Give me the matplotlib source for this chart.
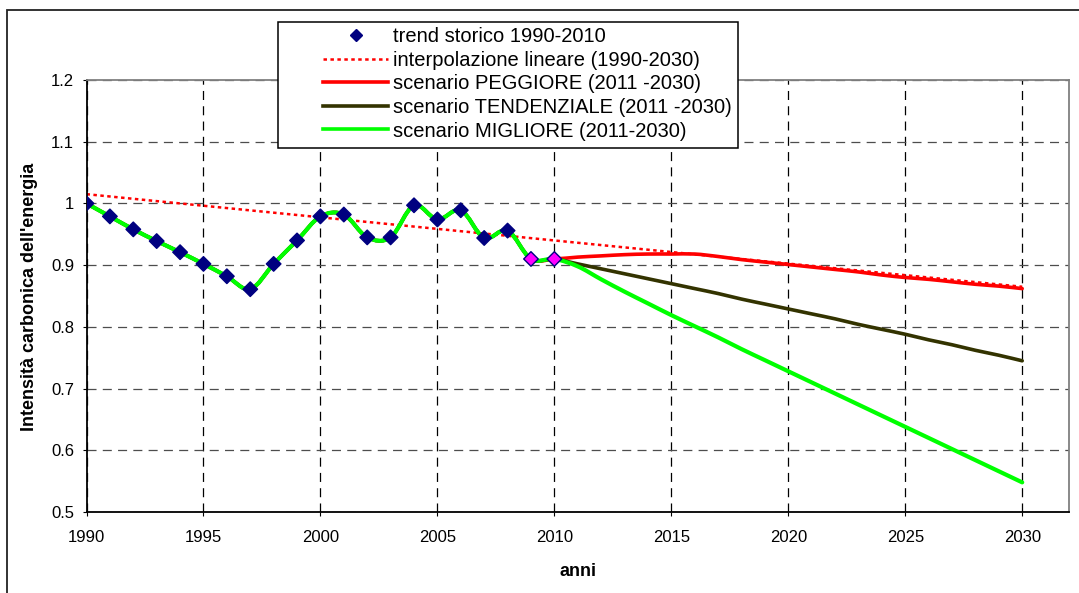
import numpy as np
import matplotlib
matplotlib.use("Agg")
import matplotlib.pyplot as plt
from matplotlib.path import Path
from matplotlib.patches import PathPatch, Rectangle
from matplotlib.lines import Line2D

plt.rcParams["font.family"] = ["Liberation Sans", "DejaVu Sans"]
plt.rcParams["lines.scale_dashes"] = False

# ---- data -------------------------------------------------------------
hist_years = list(range(1990, 2011))
hist_values = [1.000, 0.979, 0.958, 0.939, 0.921, 0.902, 0.882, 0.861, 0.902,
               0.940, 0.979, 0.982, 0.945, 0.945, 0.997, 0.974, 0.989, 0.944,
               0.956, 0.910, 0.910]
highlight_years = [2009, 2010]

interp_years = [1990, 2030]
interp_values = [1.015, 0.865]

scen_years = list(range(2011, 2031))
worst_values = [0.913, 0.915, 0.917, 0.918, 0.918, 0.918, 0.914, 0.909, 0.905,
                0.901, 0.897, 0.893, 0.889, 0.884, 0.880, 0.877, 0.873, 0.869,
                0.866, 0.862]
trend_values = [0.902, 0.894, 0.886, 0.878, 0.870, 0.862, 0.854, 0.845, 0.837,
                0.829, 0.821, 0.813, 0.804, 0.796, 0.788, 0.779, 0.771, 0.762,
                0.754, 0.745]
best_values = [0.898, 0.877, 0.857, 0.838, 0.819, 0.801, 0.783, 0.764, 0.746,
               0.728, 0.710, 0.692, 0.674, 0.656, 0.638, 0.620, 0.602, 0.584,
               0.566, 0.548]

x_ticks = [1990, 1995, 2000, 2005, 2010, 2015, 2020, 2025, 2030]
y_ticks = [0.5, 0.6, 0.7, 0.8, 0.9, 1.0, 1.1, 1.2]
y_ticklabels = ["0.5", "0.6", "0.7", "0.8", "0.9", "1", "1.1", "1.2"]

labels = ["trend storico 1990-2010",
          "interpolazione lineare (1990-2030)",
          "scenario PEGGIORE (2011 -2030)",
          "scenario TENDENZIALE (2011 -2030)",
          "scenario MIGLIORE (2011-2030)"]

NAVY = "#000080"
MAGENTA = "#FF00FF"
RED = "#FF0000"
OLIVE = "#333300"
GREEN = "#00FF00"


def smooth_path(xs, ys):
    """Spreadsheet-style smoothed line: cubic Bezier through every point."""
    p = np.column_stack([xs, ys]).astype(float)
    n = len(p)
    verts = [p[0]]
    codes = [Path.MOVETO]
    for i in range(n - 1):
        p0 = p[i - 1] if i > 0 else p[i]
        p1 = p[i]
        p2 = p[i + 1]
        p3 = p[i + 2] if i + 2 < n else p[i + 1]
        c1 = p1 + (p2 - p0) / 6.0
        c2 = p2 - (p3 - p1) / 6.0
        verts += [c1, c2, p2]
        codes += [Path.CURVE4] * 3
    return Path(verts, codes)


# ---- figure / axes ----------------------------------------------------
W, H = 1079, 593
fig = plt.figure(figsize=(W / 100, H / 100), dpi=100)
fig.patch.set_facecolor("white")

ax = fig.add_axes([86.5 / W, (H - 512) / H, (1069 - 86.5) / W, (512 - 80) / H])
ax.set_xlim(1990, 2032)
ax.set_ylim(0.5, 1.2)

ax.set_xticks(x_ticks)
ax.set_xticklabels([str(t) for t in x_ticks])
ax.set_yticks(y_ticks)
ax.set_yticklabels(y_ticklabels)
ax.tick_params(axis="both", direction="out", length=3, width=0.8,
               labelsize=12, colors="black")
ax.tick_params(axis="x", pad=10)
ax.tick_params(axis="y", pad=6)

ax.xaxis.grid(True, color="black", linestyle=(0, (6.5, 4.5)), linewidth=0.9)
ax.yaxis.grid(True, color="#4d4d4d", linestyle=(0, (6.5, 4.5)), linewidth=0.9)
ax.set_axisbelow(True)

for side in ("left", "bottom"):
    ax.spines[side].set_color("black")
    ax.spines[side].set_linewidth(1.3)
for side in ("top", "right"):
    ax.spines[side].set_color("#808080")
    ax.spines[side].set_linewidth(1.3)

# ---- series ------------------------------------------------------------
ax.plot(interp_years, interp_values, color=RED, linewidth=1.8,
        linestyle=(0, (2.5, 2.5)), zorder=2)

full_x = hist_years + scen_years
for vals, col, lw, z in [(worst_values, RED, 2.6, 3),
                         (trend_values, OLIVE, 2.6, 4),
                         (best_values, GREEN, 3.0, 5)]:
    path = smooth_path(full_x, hist_values + vals)
    ax.add_patch(PathPatch(path, fill=False, edgecolor=col, linewidth=lw,
                           capstyle="round", joinstyle="round", zorder=z))

face = [MAGENTA if yr in highlight_years else NAVY for yr in hist_years]
ax.scatter(hist_years, hist_values, marker="D", s=55, c=face,
           edgecolors=NAVY, linewidths=1.0, zorder=6)

# ---- axis titles -------------------------------------------------------
fig.text(30 / W, 1 - 297 / H, "Intensità carbonica dell'energia",
         rotation=90, ha="center", va="center", fontsize=13,
         fontweight="bold")
fig.text(578 / W, 1 - 572 / H, "anni", ha="center", va="center",
         fontsize=13, fontweight="bold")

# ---- legend ------------------------------------------------------------
fig.add_artist(Rectangle((278 / W, 1 - 148 / H), 460 / W, 126 / H,
                         transform=fig.transFigure, facecolor="white",
                         edgecolor="black", linewidth=1.1, zorder=4))
handles = [
    Line2D([], [], linestyle="none", marker="D", markersize=6,
           markerfacecolor=NAVY, markeredgecolor=NAVY),
    Line2D([], [], color=RED, linewidth=1.8, linestyle=(0, (2.5, 2.5))),
    Line2D([], [], color=RED, linewidth=2.6),
    Line2D([], [], color=OLIVE, linewidth=2.6),
    Line2D([], [], color=GREEN, linewidth=2.6),
]
leg = fig.legend(handles, labels, loc="upper left",
                 bbox_to_anchor=(323 / W, 1 - 27 / H), frameon=False,
                 borderpad=0, borderaxespad=0, handlelength=3.23,
                 handletextpad=0.25, labelspacing=0.23, fontsize=14.5)
leg.set_zorder(5)

# ---- outer chart frame ----------------------------------------------------
fig.add_artist(Rectangle((7 / W, -0.1), 1.2, (H - 10) / H + 0.1,
                         transform=fig.transFigure, fill=False,
                         edgecolor="#222222", linewidth=1.3, zorder=3))

fig.savefig("out.png", dpi=100)
